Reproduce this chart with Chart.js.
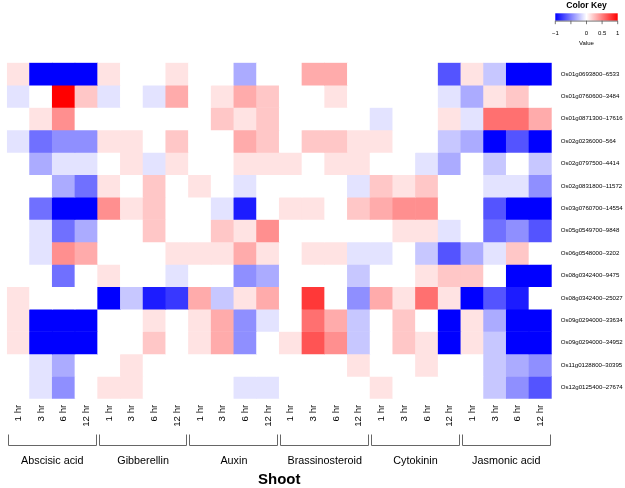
<!DOCTYPE html>
<html>
<head>
<meta charset="utf-8">
<script src="https://cdn.jsdelivr.net/npm/chart.js@4"></script>
<style>
  html, body { margin: 0; padding: 0; background: #fff; }
</style>
</head>
<body>
<canvas id="heat" width="625" height="488"></canvas>
<script>
const genes = [
  'Os01g0693800–6533', 'Os01g0760600–3484', 'Os01g0871300–17616', 'Os02g0236000–564',
  'Os02g0797500–4414', 'Os02g0831800–11572', 'Os03g0760700–14554', 'Os05g0549700–9848',
  'Os06g0548000–3202', 'Os08g0342400–9475', 'Os08g0342400–25027', 'Os09g0294000–33634',
  'Os09g0294000–34952', 'Os11g0128800–30395', 'Os12g0125400–27674'
];
const times = ['1 hr', '3 hr', '6 hr', '12 hr'];
const hormones = ['Abscisic acid', 'Gibberellin', 'Auxin', 'Brassinosteroid', 'Cytokinin', 'Jasmonic acid'];

// one row per gene, columns: ABA, GA, Auxin, BR, CK, JA x (1,3,6,12 hr)
const values = [
  [0.11, -1, -1, -1,   0.11, 0, 0, 0.11,   0, 0, -0.33, 0,   0, 0.33, 0.33, 0,   0, 0, 0, -0.67,   0.11, -0.22, -1, -1],
  [-0.11, 0, 1, 0.22,  -0.11, 0, -0.11, 0.33,  0, 0.11, 0.33, 0.22,  0, 0, 0.11, 0,  0, 0, 0, -0.11,  -0.33, 0.11, 0.22, 0],
  [0, 0.11, 0.44, 0,   0, 0, 0, 0,   0, 0.22, 0.11, 0.22,   0, 0, 0, 0,   -0.11, 0, 0, 0.11,   -0.11, 0.56, 0.56, 0.33],
  [-0.11, -0.56, -0.44, -0.44,  0.11, 0.11, 0, 0.22,  0, 0, 0.33, 0.22,  0, 0.22, 0.22, 0.11,  0.11, 0, 0, -0.22,  -0.33, -1, -0.67, -1],
  [0, -0.33, -0.11, -0.11,  0, 0.11, -0.11, 0.11,  0, 0, 0.11, 0.11,  0.11, 0, 0.11, 0.11,  0, 0, -0.11, -0.33,  0, -0.22, 0, -0.22],
  [0, 0, -0.33, -0.56,  0.11, 0, 0.22, 0,  0.11, 0, -0.11, 0,  0, 0, 0, -0.11,  0.22, 0.11, 0.22, 0,  0, -0.11, -0.11, -0.44],
  [0, -0.56, -1, -1,   0.44, 0.11, 0.22, 0,   0, -0.11, -0.89, 0,   0.11, 0.11, 0, 0.22,   0.33, 0.44, 0.44, 0,   0, -0.67, -1, -1],
  [0, -0.11, -0.56, -0.33,  0, 0, 0.22, 0,  0, 0.22, 0.11, 0.44,  0, 0, 0, 0,  0, 0.11, 0.11, -0.11,  0, -0.56, -0.44, -0.67],
  [0, -0.11, 0.44, 0.33,  0, 0, 0, 0.11,  0.11, 0.11, 0.33, 0.11,  0, 0.11, 0.11, -0.11,  -0.11, 0, -0.22, -0.67,  -0.33, -0.11, 0.22, 0],
  [0, 0, -0.56, 0,   0.11, 0, 0, -0.11,   0, 0, -0.44, -0.33,   0, 0, 0, -0.22,   0, 0, 0.11, 0.22,   0.22, 0, -1, -1],
  [0.11, 0, 0, 0,   -1, -0.22, -0.89, -0.78,   0.33, -0.22, 0.11, 0.33,   0, 0.78, 0, -0.44,   0.33, 0.11, 0.56, 0.11,   -1, -0.67, -0.89, 0],
  [0.11, -1, -1, -1,   0, 0, 0.11, 0,   0.11, 0.33, -0.44, -0.11,   0, 0.56, 0.33, -0.22,   0, 0.22, 0, -1,   0.11, -0.33, -1, -1],
  [0.11, -1, -1, -1,   0, 0, 0.22, 0,   0.11, 0.33, -0.44, 0,   0.11, 0.67, 0.44, -0.22,   0, 0.22, 0.11, -1,   0.11, -0.22, -1, -1],
  [0, -0.11, -0.33, 0,   0, 0.11, 0, 0,   0, 0, 0, 0,   0, 0, 0, 0.11,   0, 0, 0.11, 0,   0, -0.22, -0.33, -0.44],
  [0, -0.11, -0.44, 0,   0.11, 0.11, 0, 0,   0, 0, -0.11, -0.11,   0, 0, 0, 0,   0.11, 0, 0, 0,   0, -0.22, -0.44, -0.67]
];

const FONT = "'Liberation Sans', Arial, Helvetica, sans-serif";

function colorFor(v) {
  const c = Math.round(255 * (1 - Math.min(1, Math.abs(v))));
  return v >= 0 ? `rgb(255,${c},${c})` : `rgb(${c},${c},255)`;
}

// brackets under each hormone group
const brackets = {
  id: 'brackets',
  afterDraw(chart) {
    const x = chart.scales.x, g = chart.scales.xg, ctx = chart.ctx;
    const half = (x.getPixelForValue(1) - x.getPixelForValue(0)) / 2;
    const t = Math.round(g.top) + 0.5, b = t + 11;
    ctx.save();
    ctx.strokeStyle = '#666';
    ctx.lineWidth = 1;
    hormones.forEach((h, i) => {
      const l = Math.round(x.getPixelForValue(i * times.length) - half + 1) + 0.5;
      const r = Math.round(x.getPixelForValue((i + 1) * times.length - 1) + half - 2) + 0.5;
      ctx.beginPath();
      ctx.moveTo(l, t); ctx.lineTo(l, b); ctx.lineTo(r, b); ctx.lineTo(r, t);
      ctx.stroke();
    });
    ctx.restore();
  }
};

// colour key, top right
const colorKey = {
  id: 'colorKey',
  afterDraw(chart) {
    const ctx = chart.ctx;
    const x0 = 555.3, x1 = 617.7, y0 = 13.3, y1 = 20.7;
    const px = v => x0 + (v + 1) / 2 * (x1 - x0);
    ctx.save();
    const grad = ctx.createLinearGradient(x0, 0, x1, 0);
    for (let i = 0; i <= 18; i++) grad.addColorStop(i / 18, colorFor(-1 + i / 9));
    ctx.fillStyle = grad;
    ctx.fillRect(x0, y0, x1 - x0, y1 - y0);
    ctx.strokeStyle = '#555';
    ctx.lineWidth = 0.8;
    ctx.beginPath();
    ctx.moveTo(x0, y1 + 0.4); ctx.lineTo(x1, y1 + 0.4);
    [-1, -0.5, 0, 0.5, 1].forEach(v => { ctx.moveTo(px(v), y1); ctx.lineTo(px(v), y1 + 3.5); });
    ctx.stroke();
    ctx.fillStyle = '#000';
    ctx.textAlign = 'center';
    ctx.textBaseline = 'middle';
    ctx.font = 'bold 8.6px ' + FONT;
    ctx.fillText('Color Key', px(0), 6);
    ctx.font = '6px ' + FONT;
    [[-1, '−1'], [0, '0'], [0.5, '0.5'], [1, '1']].forEach(([v, s]) => ctx.fillText(s, px(v), 33.3));
    ctx.fillText('Value', px(0), 43.7);
    ctx.restore();
  }
};

new Chart(document.getElementById('heat'), {
  type: 'bar',
  data: {
    labels: hormones.flatMap(() => times),
    datasets: genes.map((g, r) => ({
      label: g,
      data: values[r].map(() => [r, r + 1]),
      backgroundColor: values[r].map(colorFor),
      xAxisID: 'x',
      yAxisID: 'y',
      barPercentage: 1,
      categoryPercentage: 1,
      borderWidth: 0
    }))
  },
  options: {
    responsive: false,
    animation: false,
    layout: { padding: { top: 62.7, left: 4, right: 0, bottom: 0 } },
    plugins: { legend: { display: false }, tooltip: { enabled: false } },
    scales: {
      x: {
        stacked: true,
        offset: true,
        weight: 0,
        grid: { display: false, drawTicks: false },
        border: { display: false },
        ticks: { minRotation: 90, maxRotation: 90, autoSkip: false, padding: 6, color: '#000',
                 font: { family: FONT, size: 9.7 } },
        afterFit: s => { s.height = 35; }
      },
      xg: {
        type: 'category',
        position: 'bottom',
        labels: hormones,
        offset: true,
        weight: 1,
        grid: { display: false, drawTicks: false },
        border: { display: false },
        ticks: { autoSkip: false, padding: 20.5, color: '#000', font: { family: FONT, size: 10.8 } },
        title: { display: true, text: 'Shoot', color: '#000', padding: 0,
                 font: { family: FONT, size: 15, weight: 'bold', lineHeight: 1.1 } },
        afterFit: s => { s.height = 54.3; }
      },
      y: { display: false, min: 0, max: genes.length, reverse: true, stacked: false },
      yl: {
        type: 'category',
        position: 'right',
        labels: genes,
        offset: true,
        grid: { display: false, drawTicks: false },
        border: { display: false },
        ticks: { autoSkip: false, padding: 9, color: '#000', font: { family: FONT, size: 6.1 } },
        afterFit: s => { s.width = 73.3; }
      }
    }
  },
  plugins: [brackets, colorKey]
});
</script>
</body>
</html>
